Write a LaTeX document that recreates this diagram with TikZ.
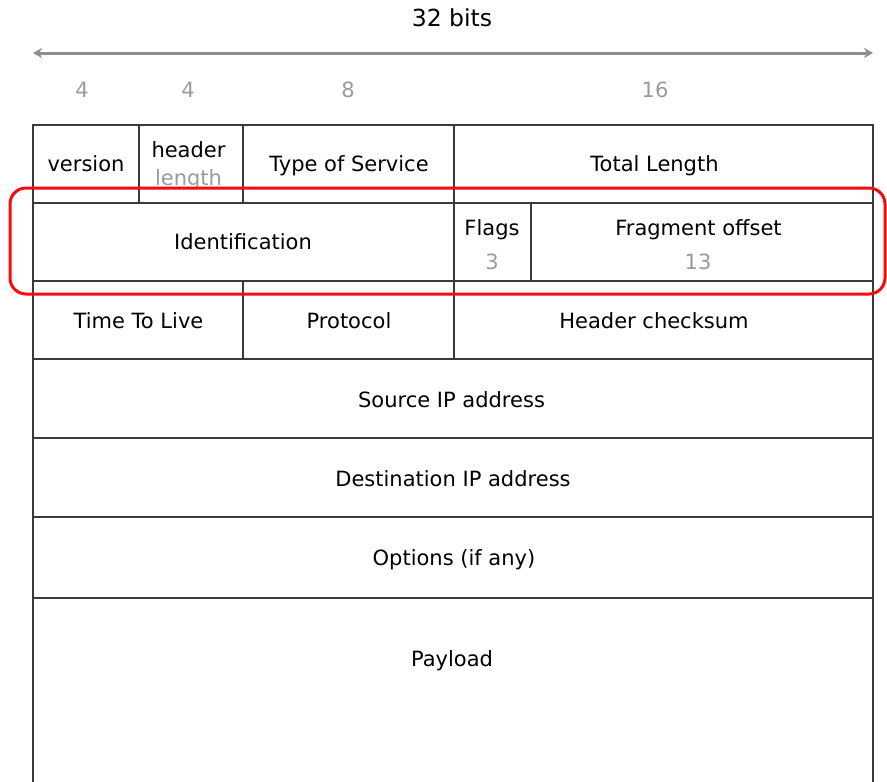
\documentclass[tikz,border=0pt]{standalone}
\usepackage{fontspec}
\setmainfont{DejaVu Sans}
\usetikzlibrary{arrows.meta}
\definecolor{linec}{HTML}{3A3A3A}
\definecolor{numc}{HTML}{9A9A9A}
\definecolor{arrc}{HTML}{8E8E8E}
\definecolor{boxred}{HTML}{FA0A0A}
\begin{document}
\begin{tikzpicture}[x=1pt,y=-1pt,
  every node/.style={font=\fontsize{21}{28}\selectfont, inner sep=0pt},
  lbl/.style={text height=15pt, text depth=0pt},
  cell/.style={draw=linec, line width=1.2pt, minimum height=78pt},
  num/.style={text=numc},
  hilite/.style={draw=boxred, line width=3pt, rounded corners=16pt}]
\useasboundingbox (0,0) rectangle (887,782);
\clip (0,0) rectangle (887,782);
% header
\node[lbl, font=\fontsize{23.5}{28}\selectfont, text height=17pt] (title) at (452,18) {32 bits};
\coordinate (al) at (33,53);
\coordinate (ar) at (873,53);
\draw[arrc, line width=3pt, {Stealth[length=9pt,width=10pt]}-{Stealth[length=9pt,width=10pt]}] (al) -- (ar);
\node[lbl,num] (n1) at (82,90) {4};
\node[lbl,num] (n2) at (188,90) {4};
\node[lbl,num] (n3) at (348,90) {8};
\node[lbl,num] (n4) at (655,90) {16};
% row 1
\node[cell, minimum width=106pt] (version) at (86,164) {};
\node[lbl] (versionT) at (86,164) {version};
\node[cell, minimum width=104pt] (hlen) at (191,164) {};
\node[lbl] (hlenA) at (188.5,150) {header};
\node[lbl,num] (hlenB) at (188.5,178) {length};
\node[cell, minimum width=211pt] (tos) at (348.5,164) {};
\node[lbl] (tosT) at (349,164) {Type of Service};
\node[cell, minimum width=419pt] (total) at (663.5,164) {};
\node[lbl] (totalT) at (654.5,164) {Total Length};
% row 2
\node[cell, minimum width=421pt] (ident) at (243.5,242) {};
\node[lbl] (identT) at (243,242) {Identification};
\node[cell, minimum width=77pt] (flags) at (492.5,242) {};
\node[lbl] (flagsA) at (492,228) {Flags};
\node[lbl,num] (flagsB) at (492,262) {3};
\node[cell, minimum width=342pt] (frag) at (702,242) {};
\node[lbl] (fragA) at (698.5,228) {Fragment offset};
\node[lbl,num] (fragB) at (698,262) {13};
% row 3
\node[cell, minimum width=210pt] (ttl) at (138,320) {};
\node[lbl] (ttlT) at (138.5,321) {Time To Live};
\node[cell, minimum width=211pt] (proto) at (348.5,320) {};
\node[lbl] (protoT) at (349,321) {Protocol};
\node[cell, minimum width=419pt] (cks) at (663.5,320) {};
\node[lbl] (cksT) at (654,321) {Header checksum};
% full rows
\node[cell, minimum width=840pt, minimum height=79pt] (src) at (453,398.5) {};
\node[lbl] (srcT) at (451.5,400) {Source IP address};
\node[cell, minimum width=840pt, minimum height=79pt] (dst) at (453,477.5) {};
\node[lbl] (dstT) at (453,479) {Destination IP address};
\node[cell, minimum width=840pt, minimum height=81pt] (opt) at (453,557.5) {};
\node[lbl] (optT) at (454,558) {Options (if any)};
\node[cell, minimum width=840pt, minimum height=220pt, anchor=north] (pay) at (453,598) {};
\node[lbl] (payT) at (452,659) {Payload};
% highlight
\draw[hilite] (10,188) rectangle (885,294);
\end{tikzpicture}
\end{document}
